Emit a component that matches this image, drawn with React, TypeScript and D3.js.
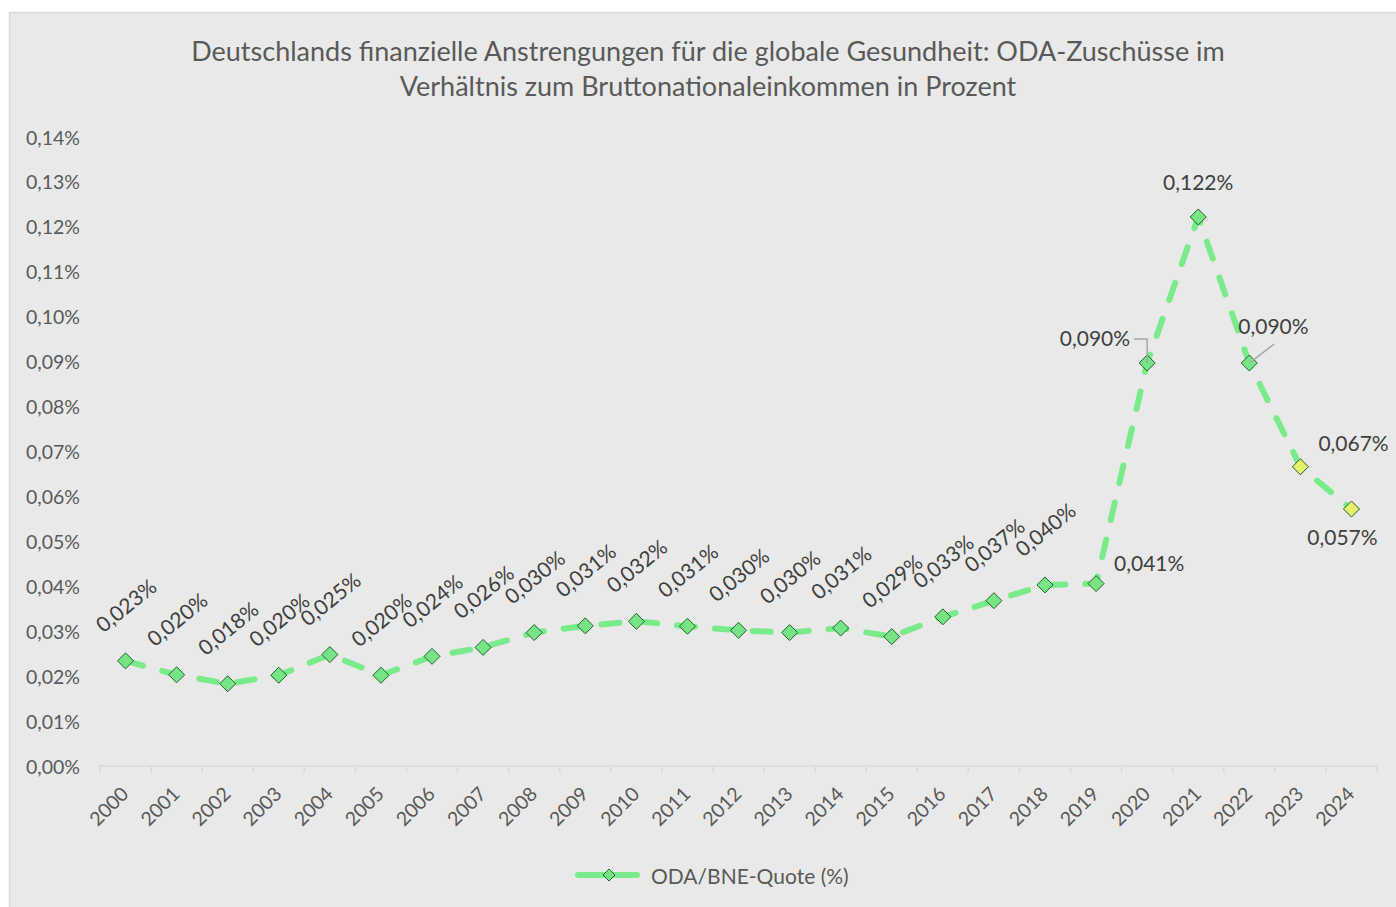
import React, { useEffect } from "react";
import * as d3 from "d3";

const years = ["2000","2001","2002","2003","2004","2005","2006","2007","2008","2009","2010","2011","2012","2013","2014","2015","2016","2017","2018","2019","2020","2021","2022","2023","2024"];
const quote = [0.0234,0.0203,0.0183,0.0202,0.0248,0.0202,0.0244,0.0264,0.0297,0.0312,0.0322,0.0311,0.0302,0.0297,0.0307,0.0288,0.0332,0.0368,0.0403,0.0406,0.0897,0.1222,0.0897,0.0666,0.0572];
const yTicks = [0,0.01,0.02,0.03,0.04,0.05,0.06,0.07,0.08,0.09,0.10,0.11,0.12,0.13,0.14];
const highlighted = ["2023","2024"];
const titleLines = [
  "Deutschlands finanzielle Anstrengungen für die globale Gesundheit: ODA-Zuschüsse im",
  "Verhältnis zum Bruttonationaleinkommen in Prozent",
];
const legendLabel = "ODA/BNE-Quote (%)";

const W = 1396, H = 907;
const FONT = "Lato, 'Open Sans', sans-serif";
const LINE = "#7aeb8a";
const MK = "#77e585";
const MK_Y = "#e3f26a";
const MK_S = "#24602c";
const LBL = 21;
const AX = 19.5;

const fmtPct = (v: number, d: number) => v.toFixed(d).replace(".", ",") + "%";

export default function App() {
  useEffect(() => {
    document.body.style.margin = "0";
  }, []);

  const x = d3.scaleBand<string>().domain(years).range([100, 1377]);
  const y = d3.scaleLinear().domain([0, 0.14]).range([766, 137]);
  const cx = (yr: string) => (x(yr) as number) + x.bandwidth() / 2;

  const line = d3.line<number>().x((_, i) => cx(years[i])).y((d) => y(d));

  const diamond = (px: number, py: number, r = 8) =>
    `M${px},${py - r}L${px + r},${py}L${px},${py + r}L${px - r},${py}Z`;

  const boundaries = d3.range(years.length + 1).map((i) => 100 + i * x.step());

  const labels = years.map((yr, i) => {
    const px = cx(yr), py = y(quote[i]);
    const t = fmtPct(quote[i], 3);
    if (i <= 18) {
      return (
        <text key={yr} transform={`translate(${px},${py - 56}) rotate(-39)`} textAnchor="middle" dominantBaseline="central" fontSize={LBL} fill="#404040">{t}</text>
      );
    }
    if (yr === "2019") return <text key={yr} x={px + 18} y={py - 13} fontSize={LBL} fill="#404040">{t}</text>;
    if (yr === "2020") return (
      <g key={yr}>
        <polyline points={`${px - 13},${py - 24} ${px},${py - 24} ${px},${py}`} fill="none" stroke="#a6a6a6" strokeWidth={1.5} />
        <text x={px - 17} y={py - 17} textAnchor="end" fontSize={LBL} fill="#404040">{t}</text>
      </g>
    );
    if (yr === "2021") return <text key={yr} x={px} y={py - 27} textAnchor="middle" fontSize={LBL} fill="#404040">{t}</text>;
    if (yr === "2022") return (
      <g key={yr}>
        <line x1={px} y1={py} x2={px + 25} y2={py - 19} stroke="#a6a6a6" strokeWidth={1.5} />
        <text x={px - 11} y={py - 29} fontSize={LBL} fill="#404040">{t}</text>
      </g>
    );
    if (yr === "2023") return <text key={yr} x={px + 18} y={py - 16} fontSize={LBL} fill="#404040">{t}</text>;
    return <text key={yr} x={px - 9} y={py + 36} textAnchor="middle" fontSize={LBL} fill="#404040">{t}</text>;
  });

  return (
    <svg width={W} height={H} style={{ display: "block", fontFamily: FONT }}>
      <rect x={0} y={0} width={W} height={H} fill="#ffffff" />
      <rect x={9.5} y={12.5} width={W + 20} height={H + 20} fill="#e9e9e9" stroke="#d9d9d9" strokeWidth={1.5} />
      {titleLines.map((t, i) => (
        <text key={i} x={708} y={61 + i * 35} textAnchor="middle" fontSize={27} fill="#595959">{t}</text>
      ))}
      {yTicks.map((v) => (
        <text key={v} x={80} y={y(v)} textAnchor="end" dominantBaseline="central" fontSize={AX} fill="#595959">{fmtPct(v, 2)}</text>
      ))}
      <line x1={100} x2={1377} y1={766} y2={766} stroke="#d9d9d9" strokeWidth={1.5} />
      {boundaries.map((b, i) => (
        <line key={i} x1={b} x2={b} y1={766} y2={773} stroke="#d9d9d9" strokeWidth={1.5} />
      ))}
      {years.map((yr) => (
        <text key={yr} transform={`translate(${cx(yr) - 1},${790}) rotate(-45)`} textAnchor="end" dominantBaseline="central" fontSize={AX} fill="#595959">{yr}</text>
      ))}
      <path d={line(quote) as string} fill="none" stroke={LINE} strokeWidth={6} strokeDasharray="18 20" strokeLinecap="round" strokeLinejoin="round" />
      {years.map((yr, i) => (
        <path key={yr} d={diamond(cx(yr), y(quote[i]))} fill={highlighted.includes(yr) ? MK_Y : MK} stroke={MK_S} strokeWidth={1} />
      ))}
      {labels}
      <line x1={578} x2={604} y1={875} y2={875} stroke={LINE} strokeWidth={6} strokeLinecap="round" />
      <line x1={614} x2={637} y1={875} y2={875} stroke={LINE} strokeWidth={6} strokeLinecap="round" />
      <path d={diamond(609, 875, 6)} fill={MK} stroke={MK_S} strokeWidth={1} />
      <text x={651} y={875} dominantBaseline="central" fontSize={21} fill="#595959">{legendLabel}</text>
    </svg>
  );
}
